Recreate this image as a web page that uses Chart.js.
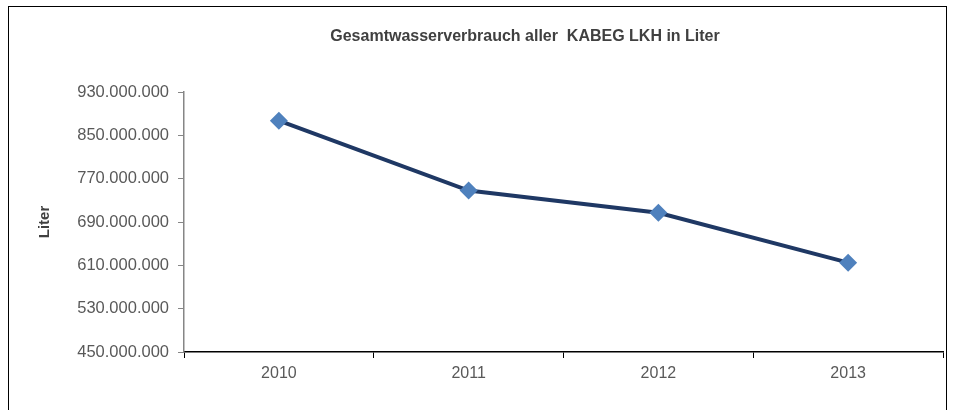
<!DOCTYPE html>
<html>
<head>
<meta charset="utf-8">
<script src="https://cdn.jsdelivr.net/npm/chart.js@4/dist/chart.umd.min.js"></script>
<style>
  body { margin: 0; background: #fff; }
  #wrap { position: relative; width: 953px; height: 410px; overflow: hidden; }
  #frame { position: absolute; left: 8px; top: 6px; width: 939px; height: 420px; border: 1.5px solid #000; box-sizing: border-box; }
  #chart { position: absolute; left: 0; top: 0; }
</style>
</head>
<body>
<div id="wrap">
  <div id="frame"></div>
  <canvas id="chart" width="953" height="410"></canvas>
</div>
<script>
let years = ["2010", "2011", "2012", "2013"];
let liters = [877000000, 748000000, 707000000, 615000000];
let yMin = 450000000;
let yMax = 930000000;
let yStep = 80000000;
let chartTitle = "Gesamtwasserverbrauch aller  KABEG LKH in Liter";

function formatLiter(value) {
  // german thousands separator
  return String(Math.round(value)).replace(/\B(?=(\d{3})+(?!\d))/g, ".");
}

// title is not centred on the canvas in the original, so draw it by hand
const titlePlugin = {
  id: "titleText",
  afterDraw(chart) {
    const c = chart.ctx;
    c.save();
    c.font = "bold 16px 'Liberation Sans', Arial, sans-serif";
    c.fillStyle = "#404040";
    c.textAlign = "center";
    c.textBaseline = "middle";
    c.fillText(chartTitle, 525, 37);
    c.restore();
  }
};

const ctx = document.getElementById("chart");

const data = {
  labels: years,
  datasets: [{
    label: "Liter",
    data: liters,
    borderColor: "#1F3864",
    borderWidth: 4,
    pointStyle: "rectRot",
    pointRadius: 9,
    pointBackgroundColor: "#4F81BD",
    pointBorderColor: "#4F81BD",
    pointBorderWidth: 0,
    tension: 0,
  }]
};

const options = {
  responsive: false,
  animation: false,
  layout: {
    padding: { left: 0, right: 10, top: 92, bottom: 0 }
  },
  plugins: {
    legend: { display: false },
    tooltip: { enabled: false },
    title: { display: false }
  },
  scales: {
    x: {
      offset: true,
      grid: {
        offset: true,
        drawOnChartArea: false,
        drawTicks: true,
        tickLength: 6,
        color: "#000",
      },
      border: { display: true, color: "#000", width: 1.5 },
      ticks: {
        color: "#595959",
        padding: 6,
        font: { family: "Liberation Sans, Arial, sans-serif", size: 16 },
      },
      afterFit: function(scale) { scale.height = 58; }
    },
    y: {
      min: yMin,
      max: yMax,
      grid: {
        drawOnChartArea: false,
        drawTicks: true,
        tickLength: 6,
        color: "#868686",
      },
      border: { display: true, color: "#868686", width: 1.5 },
      ticks: {
        stepSize: yStep,
        color: "#595959",
        padding: 9,
        font: { family: "Liberation Sans, Arial, sans-serif", size: 16.5 },
        callback: function(value) { return formatLiter(value); }
      },
      title: {
        display: true,
        text: "Liter",
        color: "#404040",
        font: { family: "Liberation Sans, Arial, sans-serif", size: 15, weight: "bold" },
        padding: { top: 36, bottom: 0 },
      },
      afterFit: function(scale) { scale.width = 184; }
    }
  }
};

new Chart(ctx, { type: "line", data, options, plugins: [titlePlugin] });
</script>
</body>
</html>
